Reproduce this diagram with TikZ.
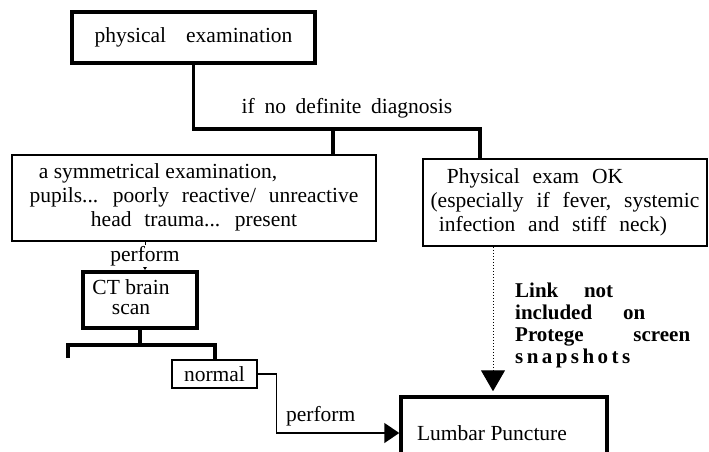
\documentclass[tikz,border=0pt]{standalone}
\usepackage{fontspec}
\setmainfont{Liberation Serif}[WordSpace=2.4]
\newfontfamily\tightfont{Liberation Serif}[Scale=0.9999]
\newfontfamily\midfont{Liberation Serif}[Scale=1.0001, WordSpace=1.8]
\usetikzlibrary{arrows.meta}
\begin{document}
\begin{tikzpicture}[x=1pt,y=-1pt,
  every node/.style={font=\fontsize{21.5}{24}\selectfont},
  thickbox/.style={draw, line width=3.5pt, inner sep=0pt},
  thinbox/.style={draw, line width=1.3pt, inner sep=0pt},
  midbox/.style={draw, line width=2.5pt, inner sep=0pt},
  thickline/.style={line width=3.5pt},
  thinline/.style={line width=1.5pt},
  notefont/.style={font=\fontsize{21}{22}\selectfont\bfseries}]
\useasboundingbox (0,0) rectangle (709,452);
\clip (0,0) rectangle (709,452);

% boxes
\node[thickbox, minimum width=243, minimum height=51] (top) at (193.5,37.5)
  {physical\hspace{20pt}examination};
\node[thinbox, minimum width=364, minimum height=86] (left) at (194,198)
  {\begin{tabular}{@{}c@{}}{\tightfont a symmetrical examination,}\hspace*{72pt}\\
   pupils... poorly reactive/ unreactive\\
   head trauma... present\end{tabular}};
\node[thinbox, line width=1.5pt, minimum width=284, minimum height=87] (right) at (565,202.5)
  {\begin{tabular}{@{}c@{}}Physical exam OK\hspace*{60pt}\\
   (especially if fever, systemic\\
   infection and stiff neck)\hspace*{24pt}\end{tabular}};
\node[thickbox, line width=4pt, minimum width=114, minimum height=56] (ct) at (140,300)
  {\def\arraystretch{0.85}\begin{tabular}{@{}c@{}}{\tightfont CT brain}\\ scan\end{tabular}\hspace*{18pt}};
\node[midbox, minimum width=85, minimum height=28] (normal) at (214.5,374) {normal};
\node[thickbox, minimum width=206, minimum height=72] (lumbar) at (504,433)
  {{\tightfont Lumbar Puncture}\hspace*{24pt}};

% label of the first branch
\node (lbl) at (347,108) {\midfont if no definite diagnosis};

% top branching connector
\coordinate (j1) at (333,129);
\coordinate (j2) at (480,129);
\draw[thickline] (top.south) |- (j2) -- (j2 |- right.north);
\draw[thickline] (j1) -- (j1 |- left.north);

% left box -> CT
\coordinate (c145) at (145,0);
\draw[line width=1pt, -{Triangle[length=4pt,width=5pt]}]
  (left.south -| c145) -- node[fill=white, inner sep=1pt] (perf1) {perform} (ct.north -| c145);

% CT bracket
\coordinate (b0) at (143,345);
\coordinate (bl) at (68,358);
\coordinate (br) at (215,345);
\draw[thickline] (ct.south) -- (ct.south |- b0);
\draw[thickline] (bl) |- (br) -- (normal.north -| br);

% normal -> lumbar
\draw[thinline, -{Triangle[length=15pt,width=20pt]}]
  (normal.east) -- ++(18,0) |- node[pos=0.75, anchor=south, inner sep=0pt, yshift=6pt, xshift=-17pt] (perf2) {perform} (lumbar.west);

% dotted link
\coordinate (c493) at (493,0);
\draw[dotted, line width=1pt, shorten >=4pt, -{Triangle[length=21pt,width=24pt]}]
  (right.south -| c493) -- (lumbar.north -| c493);

% note
\node[notefont, anchor=north west, inner sep=0pt] (note) at (515,281.5)
  {\begin{tabular}{@{}l@{}}\makebox[98pt][s]{Link \hfill not}\\
   \makebox[130pt][s]{included \hfill on}\\
   \makebox[175pt][s]{Protege \hfill screen}\\
   \makebox[115pt][s]{s\hfill n\hfill a\hfill p\hfill s\hfill h\hfill o\hfill t\hfill s}\end{tabular}};
\end{tikzpicture}
\end{document}
